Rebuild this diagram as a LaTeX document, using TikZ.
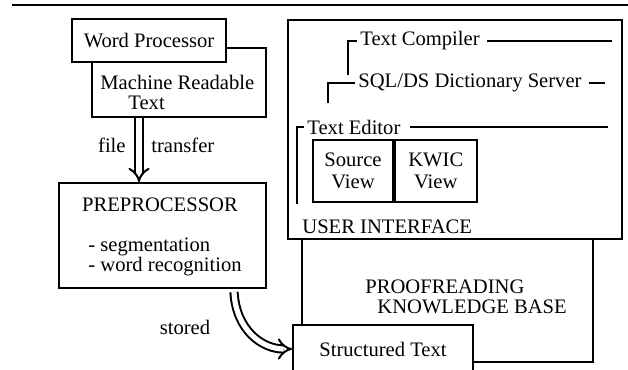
\documentclass[tikz,border=0pt]{standalone}
\usepackage{fontspec}
\setmainfont{Liberation Serif}
\usetikzlibrary{arrows.meta,calc}
\tikzset{
  box/.style={draw, line width=0.9pt, fill=white, inner sep=0pt},
  lab/.style={inner sep=0pt, font=\fontsize{10.3}{11}\selectfont},
  feed/.style={draw, double, double distance=2.6pt, line width=1pt, -{Implies}},
  tree/.style={draw, line width=0.7pt},
}

\begin{document}
\begin{tikzpicture}[x=0.5pt, y=-0.5pt]
  \useasboundingbox (0,0) rectangle (628,370);
  \clip (0,0) rectangle (628,370);
  \draw[line width=0.8pt] (12,5) -- (628,5);

  % input side
  \node[box, minimum width=87pt, minimum height=34.5pt] (mrt) at (179,82.5) {};
  \node[lab, anchor=west] (mrt1) at (100,82) {Machine Readable};
  \node[lab, anchor=west] (mrt2) at (128,103) {Text};
  \node[box, lab, minimum width=77pt, minimum height=21.5pt] (wp) at (149,40.5) {Word Processor};

  \node[box, minimum width=103.5pt, minimum height=52.5pt] (pre) at (162.5,235.5) {};
  \node[lab] (pretitle) at (160,205) {PREPROCESSOR};
  \node[lab, anchor=west] (seg) at (88,247) {- segmentation};
  \node[lab, anchor=west] (rec) at (88,267) {- word recognition};

  \coordinate (ftop) at (139,118);
  \draw[feed] (ftop) -- (ftop |- pre.north);
  \node[lab, anchor=east] (file) at (126,145) {file};
  \node[lab, anchor=west] (transfer) at (151,145) {transfer};

  % knowledge base side
  \node[box, minimum width=145.5pt, minimum height=61.5pt] (pkb) at (447.5,300.5) {};
  \node[lab, anchor=west] (pkb1) at (365,287) {PROOFREADING};
  \node[lab, anchor=west] (pkb2) at (377,307) {KNOWLEDGE BASE};

  \node[box, line width=1pt, minimum width=167pt, minimum height=109.5pt] (ui) at (455,129.5) {};
  \node[lab, anchor=west] (uiname) at (302,227) {USER INTERFACE};

  \node[lab, anchor=west, inner xsep=1.5pt] (tc) at (357,41) {Text Compiler};
  \node[lab, anchor=west, inner xsep=1.5pt] (sql) at (355,83) {SQL/DS Dictionary Server};
  \node[lab, anchor=west, inner xsep=1.5pt] (ted) at (304,127) {Text Editor};
  \coordinate (tcend) at (612,41);
  \coordinate (sqlend) at (605,83);
  \coordinate (tedend) at (608,127);
  \draw[tree] (348,75) |- (tc.west);
  \draw[tree] (tc.east) ++(4,0) -- (tcend);
  \draw[tree] (328,103) |- (sql.west);
  \draw[tree] (sql.east) ++(4,0) -- (sqlend);
  \draw[tree] (297,204) |- (ted.west);
  \draw[tree] (ted.east) ++(6,0) -- (tedend);

  \node[box, lab, align=center, minimum width=40pt, minimum height=31pt,
        font=\fontsize{10.3}{11}\selectfont] (src) at (353,171) {Source\\View};
  \node[box, lab, align=center, minimum width=41pt, minimum height=31pt,
        font=\fontsize{10.3}{11}\selectfont, anchor=west] (kwic) at (src.east) {KWIC\\View};

  \node[box, lab, minimum width=90pt, minimum height=24pt] (st) at (383,349) {Structured Text};

  \coordinate (sfrom) at (234,292);
  \draw[feed] (sfrom) .. controls (236,330) and (262,349) .. (st.west);
  \node[lab] (stored) at (185,327) {stored};
\end{tikzpicture}
\end{document}
